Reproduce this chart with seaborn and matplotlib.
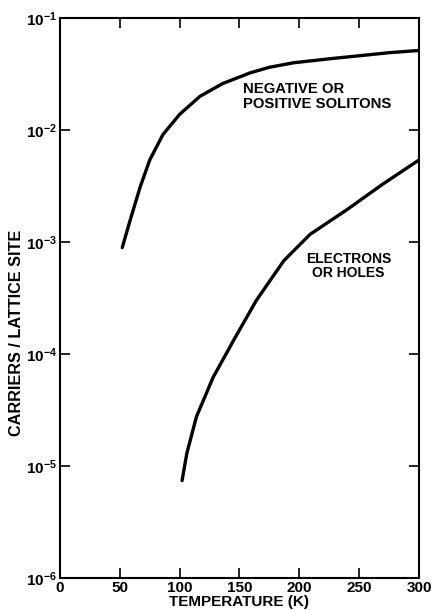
import numpy as np
import pandas as pd
import matplotlib
matplotlib.use("Agg")
import matplotlib.pyplot as plt
import seaborn as sns

# values (temperature in K, carriers per lattice site)
soliton_T = [52, 58.5, 67, 75, 86, 100, 117, 136, 159, 175, 195, 225, 250, 275, 300]
soliton_n = [8.9e-4, 1.55e-3, 3.1e-3, 5.4e-3, 9.1e-3, 1.38e-2, 2.0e-2, 2.6e-2,
             3.24e-2, 3.63e-2, 3.98e-2, 4.32e-2, 4.6e-2, 4.9e-2, 5.13e-2]

electron_T = [102, 106, 114, 128, 145, 164, 187, 209, 240, 270, 300]
electron_n = [7.4e-6, 1.3e-5, 2.75e-5, 6.2e-5, 1.32e-4, 3.0e-4, 6.8e-4,
              1.17e-3, 1.95e-3, 3.3e-3, 5.4e-3]

x_ticks = [0, 50, 100, 150, 200, 250, 300]
y_exponents = [-6, -5, -4, -3, -2, -1]

sns.set_style("ticks")
plt.rcParams["font.family"] = ["Liberation Sans", "DejaVu Sans"]
plt.rcParams["mathtext.fontset"] = "custom"
plt.rcParams["mathtext.rm"] = "Liberation Sans:bold"
plt.rcParams["mathtext.default"] = "rm"
# seaborn greys the text, the original is plain black ink
for key in ["text.color", "axes.labelcolor", "xtick.color", "ytick.color",
            "xtick.labelcolor", "ytick.labelcolor"]:
    plt.rcParams[key] = "black"

df_sol = pd.DataFrame({"T": soliton_T, "n": soliton_n})
df_el = pd.DataFrame({"T": electron_T, "n": electron_n})

fig = plt.figure(figsize=(4.37, 6.10), dpi=100)
ax = fig.add_axes([0.1373, 0.0525, 0.8215, 0.918])

for df in (df_sol, df_el):
    sns.lineplot(data=df, x="T", y="n", ax=ax, color="black", lw=2.4, sort=False,
                 solid_joinstyle="round", solid_capstyle="round")

ax.set_yscale("log")
ax.set_xlim(0, 300)
ax.set_ylim(1e-6, 1e-1)

ax.set_xticks(x_ticks)
ax.set_xticklabels([str(t) for t in x_ticks], fontsize=11, fontweight="bold")
ax.set_yticks([10.0 ** e for e in y_exponents])
ax.set_yticklabels([r"$10^{%d}$" % e for e in y_exponents], fontsize=11)
ax.yaxis.set_minor_locator(matplotlib.ticker.NullLocator())

ax.tick_params(axis="both", which="major", direction="in", length=7, width=1.2,
               top=True, right=True, pad=2, colors="black")
for s in ax.spines.values():
    s.set_linewidth(1.5)
    s.set_color("black")

ax.set_xlabel("TEMPERATURE (K)", fontsize=11, fontweight="bold", labelpad=0)
ax.set_ylabel("CARRIERS / LATTICE SITE", fontsize=11.7, fontweight="bold")
ax.yaxis.set_label_coords(-0.10, 0.4375)

ax.text(153, 10 ** -1.70, "NEGATIVE OR\nPOSITIVE SOLITONS", fontsize=10.7,
        fontweight="bold", ha="left", va="center", linespacing=1.05)
ax.text(241, 10 ** -3.21, "ELECTRONS\nOR HOLES", fontsize=10,
        fontweight="bold", ha="center", va="center", linespacing=1.0)

fig.savefig("out.png", dpi=100)
